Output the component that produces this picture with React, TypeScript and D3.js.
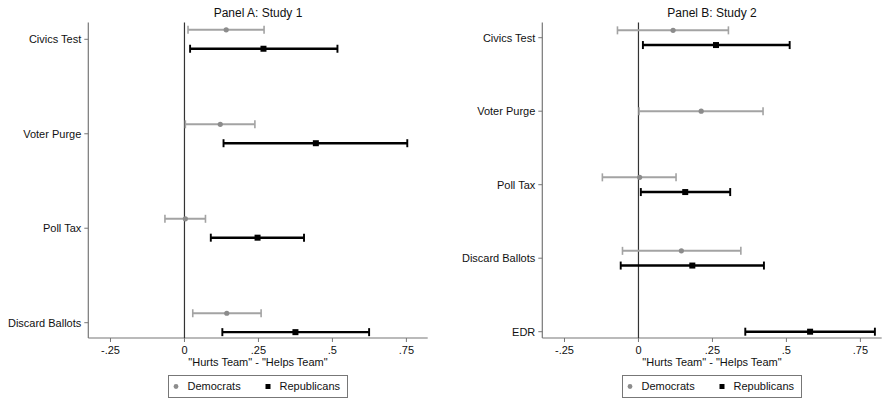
import React, { useEffect, useRef } from 'react';
import * as d3 from 'd3';

// [estimate, low, high]; null = not asked in that study
const catsA = ['Civics Test', 'Voter Purge', 'Poll Tax', 'Discard Ballots'];
const demA = [[0.141, 0.012, 0.269], [0.121, 0.003, 0.238], [0.003, -0.066, 0.071], [0.143, 0.028, 0.259]];
const repA = [[0.267, 0.019, 0.517], [0.444, 0.132, 0.753], [0.247, 0.089, 0.404], [0.375, 0.128, 0.624]];

const catsB = ['Civics Test', 'Voter Purge', 'Poll Tax', 'Discard Ballots', 'EDR'];
const demB = [[0.117, -0.071, 0.304], [0.212, 0.002, 0.421], [0.004, -0.122, 0.127], [0.145, -0.054, 0.346], null];
const repB = [[0.262, 0.015, 0.511], null, [0.158, 0.008, 0.31], [0.182, -0.06, 0.424], [0.58, 0.361, 0.799]];

const tickVals = [-0.25, 0, 0.25, 0.5, 0.75];
const tickLabels = ['-.25', '0', '.25', '.5', '.75'];

const FONT = '"Liberation Sans", Arial, sans-serif';
const DEM = '#a3a3a3';
const DEM_PT = '#8c8c8c';
const REP = '#000';

function drawPanel(svg: any, opts: any) {
  const { left, right, top, bottom, yFirst, yLast, cats, dem, rep, title } = opts;
  const g = svg.append('g');

  const x = d3.scaleLinear().domain([-0.325, 0.822]).range([left, right]);
  const y = d3.scalePoint().domain(cats).range([yFirst, yLast]);
  const step = y.step();

  // axes
  g.append('line').attr('x1', left).attr('x2', left).attr('y1', top).attr('y2', bottom)
    .attr('stroke', '#777').attr('stroke-width', 1.2);
  g.append('line').attr('x1', left).attr('x2', right).attr('y1', bottom).attr('y2', bottom)
    .attr('stroke', '#777').attr('stroke-width', 1.2);

  // zero line
  g.append('line').attr('x1', x(0)).attr('x2', x(0)).attr('y1', top).attr('y2', bottom)
    .attr('stroke', '#333').attr('stroke-width', 1.2);

  // y ticks + labels
  cats.forEach((c: string) => {
    g.append('line').attr('x1', left - 4).attr('x2', left).attr('y1', y(c)).attr('y2', y(c))
      .attr('stroke', '#777');
    g.append('text').text(c).attr('x', left - 7).attr('y', y(c)).attr('dy', '0.35em')
      .attr('text-anchor', 'end').attr('font-size', 11).attr('font-family', FONT).attr('fill', '#111');
  });

  // x ticks + labels
  tickVals.forEach((v, i) => {
    g.append('line').attr('x1', x(v)).attr('x2', x(v)).attr('y1', bottom).attr('y2', bottom + 4)
      .attr('stroke', '#777');
    g.append('text').text(tickLabels[i]).attr('x', x(v)).attr('y', bottom + 12).attr('dy', '0.35em')
      .attr('text-anchor', 'middle').attr('font-size', 11).attr('font-family', FONT).attr('fill', '#111');
  });

  const mid = (left + right) / 2;
  g.append('text').text('"Hurts Team" - "Helps Team"').attr('x', mid).attr('y', bottom + 24).attr('dy', '0.35em')
    .attr('text-anchor', 'middle').attr('font-size', 11).attr('font-family', FONT).attr('fill', '#111');
  g.append('text').text(title).attr('x', mid).attr('y', 13).attr('dy', '0.35em')
    .attr('text-anchor', 'middle').attr('font-size', 12).attr('font-family', FONT).attr('fill', '#111');

  // error bars
  const series = [
    { data: dem, color: DEM, pt: DEM_PT, w: 2, off: -0.1, dot: true },
    { data: rep, color: REP, pt: REP, w: 2.4, off: 0.1, dot: false },
  ];
  cats.forEach((c: string, i: number) => {
    const both = dem[i] && rep[i];
    series.forEach((s) => {
      const d = s.data[i];
      if (!d) return;
      const yy = (y(c) as number) + (both ? s.off * step : 0);
      g.append('line').attr('x1', x(d[1])).attr('x2', x(d[2])).attr('y1', yy).attr('y2', yy)
        .attr('stroke', s.color).attr('stroke-width', s.w);
      [d[1], d[2]].forEach((v) => {
        g.append('line').attr('x1', x(v)).attr('x2', x(v)).attr('y1', yy - 4).attr('y2', yy + 4)
          .attr('stroke', s.color).attr('stroke-width', s.w * 0.8);
      });
      if (s.dot) {
        g.append('circle').attr('cx', x(d[0])).attr('cy', yy).attr('r', 2.6).attr('fill', s.pt);
      } else {
        g.append('rect').attr('x', x(d[0]) - 3).attr('y', yy - 3).attr('width', 6).attr('height', 6).attr('fill', s.pt);
      }
    });
  });

  // legend
  const lx = opts.legendX;
  const lg = g.append('g').attr('transform', `translate(${lx},375.5)`);
  lg.append('rect').attr('x', 0).attr('y', 0).attr('width', 179).attr('height', 22)
    .attr('fill', '#fff').attr('stroke', '#777').attr('stroke-width', 1);
  lg.append('circle').attr('cx', 7.5).attr('cy', 11).attr('r', 2.4).attr('fill', DEM_PT);
  lg.append('text').text('Democrats').attr('x', 19).attr('y', 11).attr('dy', '0.35em')
    .attr('font-size', 11).attr('font-family', FONT).attr('fill', '#111');
  lg.append('rect').attr('x', 97).attr('y', 8.5).attr('width', 5).attr('height', 5).attr('fill', REP);
  lg.append('text').text('Republicans').attr('x', 111).attr('y', 11).attr('dy', '0.35em')
    .attr('font-size', 11).attr('font-family', FONT).attr('fill', '#111');
}

export default function App() {
  const ref = useRef<SVGSVGElement>(null);
  useEffect(() => {
    const svg = d3.select(ref.current);
    svg.selectAll('*').remove();
    svg.append('rect').attr('width', 883).attr('height', 399).attr('fill', '#fff');
    drawPanel(svg, {
      left: 88.3, right: 427.7, top: 22.5, bottom: 338,
      yFirst: 39.3, yLast: 322.7, cats: catsA, dem: demA, rep: repA,
      title: 'Panel A: Study 1', legendX: 168.5,
    });
    drawPanel(svg, {
      left: 542.3, right: 881.7, top: 22.5, bottom: 338,
      yFirst: 37.7, yLast: 331.7, cats: catsB, dem: demB, rep: repB,
      title: 'Panel B: Study 2', legendX: 622.5,
    });
  }, []);
  return (
    <svg ref={ref} width={883} height={399}
      style={{ position: 'absolute', left: 0, top: 0, display: 'block' }} />
  );
}
